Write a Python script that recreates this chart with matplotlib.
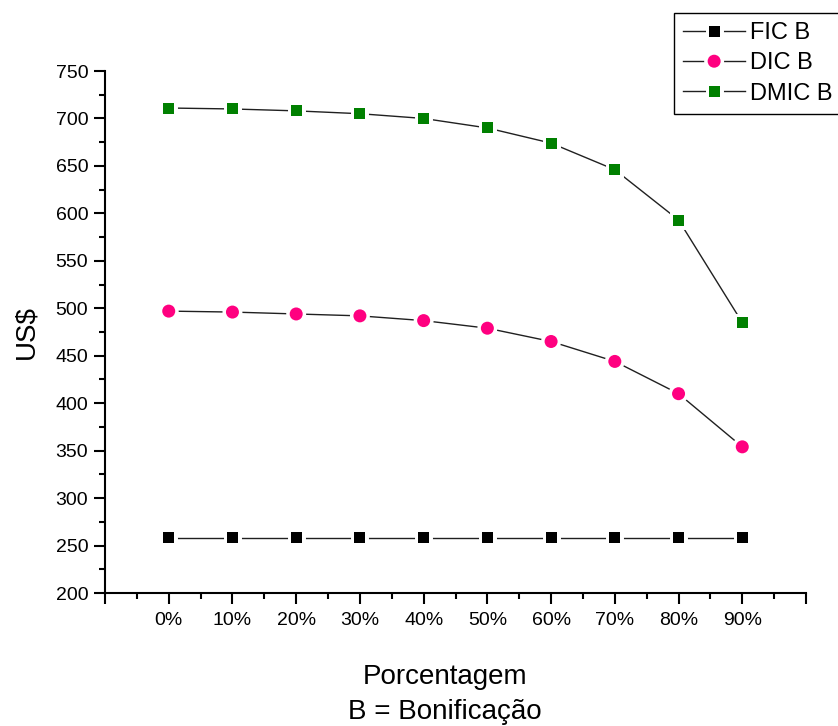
import matplotlib
matplotlib.use("Agg")
import matplotlib.pyplot as plt
import matplotlib.patheffects as pe
from matplotlib.legend_handler import HandlerTuple
from matplotlib.ticker import MultipleLocator, FixedLocator

plt.rcParams['font.family'] = ['Liberation Sans', 'DejaVu Sans']

categories = ["0%", "10%", "20%", "30%", "40%", "50%", "60%", "70%", "80%", "90%"]
fic_b = [258, 258, 258, 258, 258, 258, 258, 258, 258, 258]
dic_b = [497, 496, 494, 492, 487, 479, 465, 444, 410, 354]
dmic_b = [711, 710, 708, 705, 700, 690, 674, 646, 593, 485]

series = [
    ("FIC B", fic_b, "s", "black", 11),
    ("DIC B", dic_b, "o", "#ff0080", 13),
    ("DMIC B", dmic_b, "s", "#008000", 11),
]

fig = plt.figure(figsize=(8.38, 7.26), dpi=100)
ax = fig.add_axes([105/838, 1-593/726, (806-105)/838, (593-71)/726])

x = list(range(len(categories)))
halo = [pe.Stroke(linewidth=5, foreground='white'), pe.Normal()]
handles = []
for name, vals, mk, col, ms in series:
    ln, = ax.plot(x, vals, color='#202020', lw=1.0, zorder=2)
    mkl, = ax.plot(x, vals, linestyle='none', marker=mk, color=col,
                   markersize=ms * 0.72, markeredgewidth=0, zorder=3,
                   path_effects=halo)
    handles.append(((ln, mkl), name))

ax.set_xlim(-1, 10)
ax.set_ylim(200, 750)
ax.xaxis.set_major_locator(FixedLocator(list(range(-1, 11))))
ax.xaxis.set_minor_locator(MultipleLocator(0.5))
ax.set_xticklabels([""] + categories + [""])
ax.yaxis.set_major_locator(MultipleLocator(50))
ax.yaxis.set_minor_locator(MultipleLocator(25))

for s in ['top', 'right']:
    ax.spines[s].set_visible(False)
for s in ['left', 'bottom']:
    ax.spines[s].set_linewidth(1.5)
ax.tick_params(which='major', direction='out', length=8, width=1.5, labelsize=14, pad=4)
ax.tick_params(which='minor', direction='out', length=4.5, width=1.5)
ax.tick_params(axis='x', which='major', pad=6)

ax.set_ylabel("US$", fontsize=20, labelpad=12)

fig.text(445/838, 1-677/726, "Porcentagem", ha='center', va='center', fontsize=20)
fig.text(445/838, 1-712/726, "B = Bonificação", ha='center', va='center', fontsize=20)

leg = fig.legend([h for h, _ in handles], [n for _, n in handles],
                 handler_map={tuple: HandlerTuple(ndivide=1)},
                 loc='upper left', bbox_to_anchor=(674/838, 1-13/726),
                 fontsize=17, frameon=True, fancybox=False, framealpha=1,
                 edgecolor='black', handlelength=2.6, handletextpad=0.2,
                 borderpad=0.4, labelspacing=0.34, borderaxespad=0)
leg.get_frame().set_linewidth(1.0)

fig.savefig("out.png", dpi=100)
